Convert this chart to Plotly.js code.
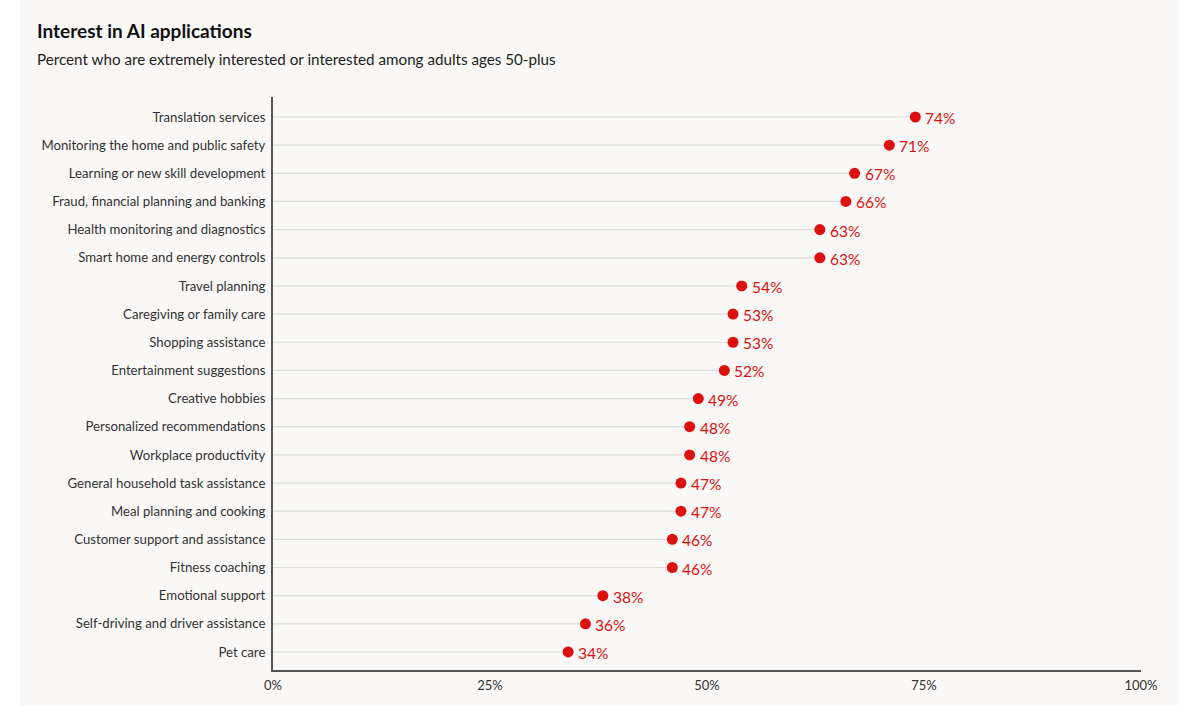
<!DOCTYPE html>
<html>
<head>
<meta charset="utf-8">
<script src="https://cdn.plot.ly/plotly-3.0.1.min.js"></script>
<style>
  html, body { margin: 0; padding: 0; background: #ffffff; }
  #panel { position: absolute; left: 20px; top: 0px; width: 1158px; height: 706px; background: #f9f8f6; }
  #chart { width: 1158px; height: 706px; }
</style>
</head>
<body>
<div id="panel"><div id="chart"></div></div>
<script>
const categories = [
  "Translation services",
  "Monitoring the home and public safety",
  "Learning or new skill development",
  "Fraud, financial planning and banking",
  "Health monitoring and diagnostics",
  "Smart home and energy controls",
  "Travel planning",
  "Caregiving or family care",
  "Shopping assistance",
  "Entertainment suggestions",
  "Creative hobbies",
  "Personalized recommendations",
  "Workplace productivity",
  "General household task assistance",
  "Meal planning and cooking",
  "Customer support and assistance",
  "Fitness coaching",
  "Emotional support",
  "Self-driving and driver assistance",
  "Pet care"
];
const values = [74, 71, 67, 66, 63, 63, 54, 53, 53, 52, 49, 48, 48, 47, 47, 46, 46, 38, 36, 34];
const xTickVals = [0, 25, 50, 75, 100];
const xTickText = ["0%", "25%", "50%", "75%", "100%"];
const titleText = "Interest in AI applications";
const subtitleText = "Percent who are extremely interested or interested among adults ages 50-plus";

const FONT = "Lato, 'Source Sans Pro', 'Noto Sans', sans-serif";
const RED = "#dd1010";

const trace = {
  type: "scatter",
  mode: "markers",
  x: values,
  y: categories,
  marker: { color: RED, size: 11 },
  error_x: {
    type: "data",
    symmetric: false,
    array: values.map(() => 0),
    arrayminus: values,
    color: "#dcdcdc",
    thickness: 1.2,
    width: 0
  },
  cliponaxis: false,
  hoverinfo: "x+y"
};

const valueLabels = values.map((v, i) => ({
  xref: "x", yref: "y",
  x: v, y: categories[i],
  xanchor: "left", yanchor: "middle",
  xshift: 8, yshift: -1,
  text: v + "%",
  showarrow: false,
  font: { family: FONT, size: 15.5, color: RED }
}));

const layout = {
  width: 1158,
  height: 706,
  margin: { l: 253, r: 37, t: 97, b: 36 },
  paper_bgcolor: "rgba(0,0,0,0)",
  plot_bgcolor: "rgba(0,0,0,0)",
  font: { family: FONT, color: "#333333" },
  showlegend: false,
  xaxis: {
    range: [0, 100],
    tickvals: xTickVals,
    ticktext: xTickText,
    showgrid: false,
    zeroline: false,
    showline: true,
    linecolor: "#555555",
    linewidth: 2,
    ticks: "",
    ticklabelstandoff: 2,
    tickfont: { family: FONT, size: 13, color: "#333333" },
    fixedrange: true
  },
  yaxis: {
    type: "category",
    categoryorder: "array",
    categoryarray: categories,
    range: [19.64, -0.71],
    showgrid: false,
    zeroline: false,
    showline: true,
    linecolor: "#555555",
    linewidth: 2,
    ticks: "",
    ticklabelstandoff: 3,
    tickfont: { family: FONT, size: 13.2, color: "#333333" },
    fixedrange: true
  },
  annotations: [
    {
      xref: "paper", yref: "paper",
      x: (15 - 253) / 868, y: 1 + (97 - 30) / 573,
      xanchor: "left", yanchor: "middle",
      text: "<b>" + titleText + "</b>",
      showarrow: false,
      font: { family: FONT, size: 19, color: "#111111" }
    },
    {
      xref: "paper", yref: "paper",
      x: (15 - 253) / 868, y: 1 + (97 - 59) / 573,
      xanchor: "left", yanchor: "middle",
      text: subtitleText,
      showarrow: false,
      font: { family: FONT, size: 15.2, color: "#222222" }
    }
  ].concat(valueLabels)
};

Plotly.newPlot("chart", [trace], layout, { displayModeBar: false, staticPlot: true });
</script>
</body>
</html>
